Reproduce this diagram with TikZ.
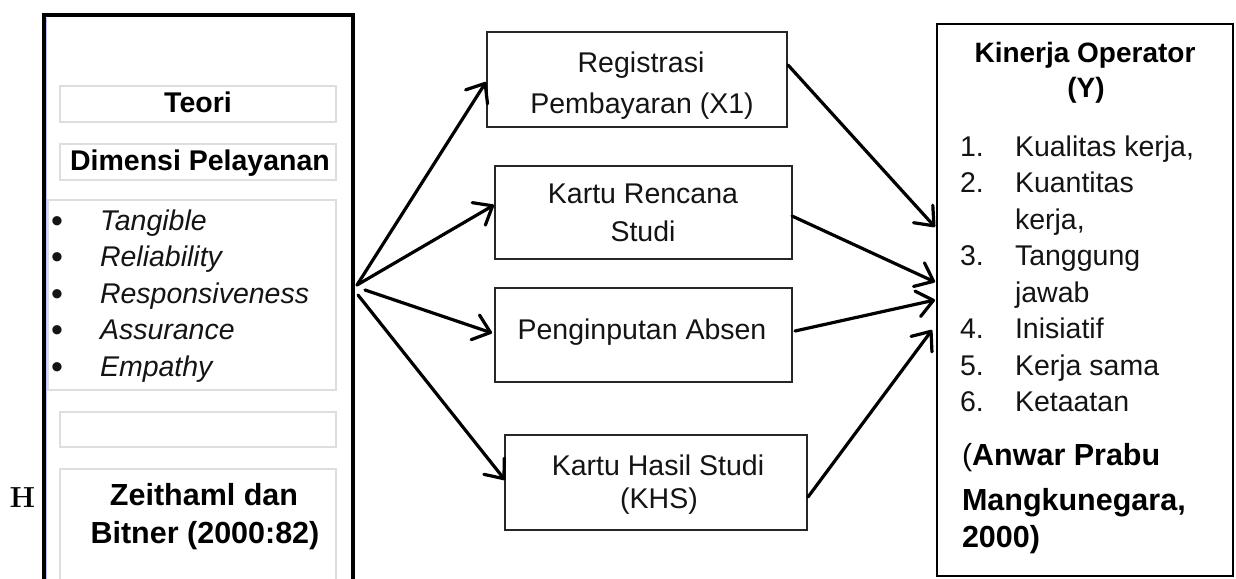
\documentclass[tikz,border=0pt]{standalone}
\usepackage{fontspec}
\newfontfamily\arial{Liberation Sans}
\usetikzlibrary{arrows.meta,calc}
\begin{document}
\begin{tikzpicture}[x=1pt,y=-1pt,
  every node/.style={inner sep=0pt, outer sep=0pt},
  txt/.style={font=\arial\fontsize{28.5}{36.5}\selectfont, text=black!92, anchor=base},
  txtw/.style={txt, anchor=base west},
  btxt/.style={font=\arial\bfseries\fontsize{28.5}{36.5}\selectfont, text=black, anchor=base},
  bbig/.style={font=\arial\bfseries\fontsize{30.5}{40}\selectfont, text=black, anchor=base},
  itxt/.style={font=\arial\itshape\fontsize{28.5}{36.5}\selectfont, text=black!92, anchor=base west},
  grayframe/.style={draw=black!13, line width=1.2pt},
  midbox/.style={draw=black!85, line width=2.2pt},
  bigframe/.style={draw=black, line width=2.8pt},
  arr/.style={draw=black, line width=3.2pt, line cap=round, line join=round,
    -{Straight Barb[length=16pt,width=26pt,line cap=round,line join=round]}},
]
\useasboundingbox (0,0) rectangle (1236,578);
\fill[white] (0,0) rectangle (1236,578);

% ---------------- left frame ----------------
\draw[line width=3.2pt, line cap=rect] (44,600) -- (44,15) -- (353,15) -- (353,600);
\draw[blue!25, line width=0.8pt] (46.8,18) -- (46.8,600);

\node[grayframe, minimum width=276pt, minimum height=36pt] (teorib) at (198,104) {};
\node[btxt] (teori) at (198,112) {Teori};
\node[grayframe, minimum width=276pt, minimum height=36pt] (dimb) at (198,162) {};
\node[btxt] (dim) at (200,170) {Dimensi Pelayanan};
\node[grayframe, minimum width=288pt, minimum height=190pt] (listb) at (192,295) {};
\foreach \t/\yy [count=\i] in {Tangible/230,Reliability/266,Responsiveness/303,Assurance/339,Empathy/376}{
  \node[txtw, font=\arial\fontsize{34}{36}\selectfont] (bul\i) at (51,\yy+2) {•};
  \node[itxt] (it\i) at (100,\yy) {\t};
}
\node[grayframe, minimum width=276pt, minimum height=35pt] (emptyb) at (198,429.5) {};
\draw[grayframe] (60,600) -- (60,469) -- (336,469) -- (336,600);
\node[bbig] (zei1) at (204,505) {Zeithaml dan};
\node[bbig] (zei2) at (205,543) {Bitner (2000:82)};

\node[font=\bfseries\fontsize{29}{30}\selectfont, anchor=base] (H) at (22.5,507) {H};

% ---------------- middle boxes ----------------
\node[midbox, minimum width=300pt, minimum height=95pt] (reg) at (637,79.5) {};
\node[txt] (regt1) at (641,72) {Registrasi};
\node[txt] (regt2) at (642,113) {Pembayaran (X1)};

\node[midbox, minimum width=297pt, minimum height=93pt] (krs) at (643.5,212.5) {};
\node[txt] (krst1) at (643,203) {Kartu Rencana};
\node[txt] (krst2) at (643,241) {Studi};

\node[midbox, minimum width=297pt, minimum height=94pt] (pin) at (643.5,335) {};
\node[txt] (pint) at (642,339) {Penginputan Absen};

\node[midbox, minimum width=302pt, minimum height=95pt] (khs) at (656,482.5) {};
\node[txt] (khst1) at (658,475) {Kartu Hasil Studi};
\node[txt] (khst2) at (659,508) {(KHS)};

% ---------------- right box ----------------
\node[bigframe, minimum width=296pt, minimum height=552pt] (Y) at (1085,300) {};
\node[btxt, font=\arial\bfseries\fontsize{28}{30}\selectfont] (yt1) at (1085,63) {Kinerja Operator};
\node[btxt, font=\arial\bfseries\fontsize{28}{30}\selectfont] (yt2) at (1086,97) {(Y)};
\foreach \n/\t/\yy [count=\i] in {1./{Kualitas kerja,}/156, 2./Kuantitas/192.5, /{kerja,}/229, 3./Tanggung/265.5, /jawab/302, 4./Inisiatif/338.5, 5./{Kerja sama}/375, 6./Ketaatan/411.5}{
  \node[txtw] (num\i) at (960,\yy) {\n};
  \node[txtw] (li\i) at (1015,\yy) {\t};
}
\node[bbig, anchor=base west] (c1) at (962,465) {\mdseries(\bfseries Anwar Prabu};
\node[bbig, anchor=base west] (c2) at (962,510) {Mangkunegara,};
\node[bbig, anchor=base west] (c3) at (962,547) {2000)};

% ---------------- connectors ----------------
\coordinate (fanA) at (357,285);
\coordinate (fanB) at (365,290);
\coordinate (fanC) at (358,295);
\draw[arr] (fanA) -- ($(reg.west)+(-1,2.5)$);
\draw[arr] (fanA) -- ($(krs.west)+(-1,-7.5)$);
\draw[arr] (fanB) -- ($(pin.west)+(-3,-2)$);
\draw[arr] (fanC) -- ($(khs.west)+(0,-2.5)$);

\draw[arr] ($(reg.east)+(1,-14.5)$) -- ($(Y.west)+(-2,-73)$);
\draw[arr] ($(krs.east)+(0,3.5)$) -- ($(Y.west)+(-2,-18)$);
\draw[arr] ($(pin.east)+(3,-4)$) -- ($(Y.west)+(-2,0)$);
\draw[arr] ($(khs.east)+(1,14.5)$) -- ($(Y.west)+(-5,30)$);
\end{tikzpicture}
\end{document}
